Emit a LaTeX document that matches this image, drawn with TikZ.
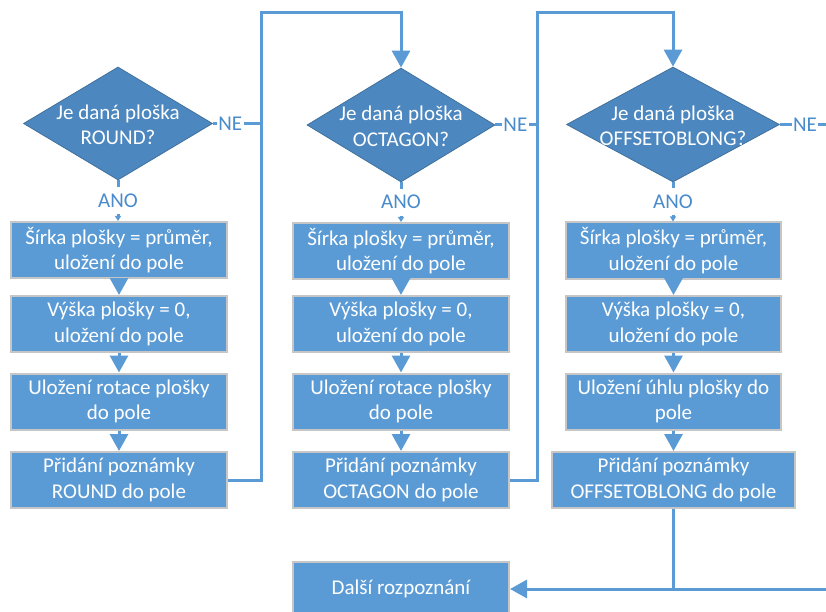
\documentclass[tikz,border=0pt]{standalone}
\usepackage{fontspec}
\setmainfont{Carlito}
\usetikzlibrary{shapes.geometric,arrows.meta}
\definecolor{boxblue}{HTML}{5B9BD5}
\definecolor{decblue}{HTML}{4C87BF}
\definecolor{decedge}{HTML}{41719C}
\definecolor{rim}{HTML}{C6C6C6}
\definecolor{lblblue}{HTML}{4A8BCB}
\begin{document}
\begin{tikzpicture}[x=1pt,y=-1pt,
  every node/.style={font=\fontsize{21}{25.5}\selectfont},
  stepbox/.style={rectangle, fill=boxblue, draw=rim, line width=2pt,
    minimum width=216pt, minimum height=56pt, inner sep=0pt, align=center, text=white},
  decision/.style={diamond, fill=decblue, draw=decedge, line width=0.8pt, inner sep=0pt},
  dtext/.style={align=center, text=white, inner sep=0pt},
  flow/.style={draw=boxblue, line width=3pt},
  bigtip/.style={-{Triangle[width=18pt,length=17pt]}},
  smalltip/.style={-{Triangle[width=6pt,length=5pt]}},
  lbl/.style={fill=white, text=lblblue, inner xsep=1.5pt, inner ysep=0pt, minimum height=27pt}
]
\useasboundingbox (0,0) rectangle (826,612);
\clip (0,0) rectangle (826,612);

% ---- column 1: ROUND ----
\node[decision, minimum width=189pt, minimum height=113pt] (d1) at (118,123.5) {};
\node[dtext] (t1) at ([yshift=-1.5pt]d1.center) {Je daná ploška\\ROUND?};
\node[stepbox] (a1) at (119,250) {Šírka plošky = průměr,\\uložení do pole};
\node[stepbox] (a2) at (119,324) {Výška plošky = 0,\\uložení do pole};
\node[stepbox] (a3) at (119,401.5) {Uložení rotace plošky\\do pole};
\node[stepbox] (a4) at (119,480) {Přidání poznámky\\ROUND do pole};

% ---- column 2: OCTAGON ----
\node[decision, minimum width=188pt, minimum height=114pt] (d2) at (401,125) {};
\node[dtext] (t2) at ([yshift=-1.5pt]d2.center) {Je daná ploška\\OCTAGON?};
\node[stepbox] (b1) at (401,251) {Šírka plošky = průměr,\\uložení do pole};
\node[stepbox] (b2) at (401,324) {Výška plošky = 0,\\uložení do pole};
\node[stepbox] (b3) at (401,401.5) {Uložení rotace plošky\\do pole};
\node[stepbox] (b4) at (401,480) {Přidání poznámky\\OCTAGON do pole};

% ---- column 3: OFFSETOBLONG ----
\node[decision, minimum width=213pt, minimum height=115pt] (d3) at (673,124.5) {};
\node[dtext] (t3) at ([yshift=-1.5pt]d3.center) {Je daná ploška\\OFFSETOBLONG?};
\node[stepbox, minimum width=215pt] (c1) at (673.5,250.5) {Šírka plošky = průměr,\\uložení do pole};
\node[stepbox, minimum width=215pt] (c2) at (673.5,324) {Výška plošky = 0,\\uložení do pole};
\node[stepbox, minimum width=215pt] (c3) at (673.5,401.5) {Uložení úhlu plošky do\\pole};
\node[stepbox, minimum width=243pt] (c4) at (673.5,480) {Přidání poznámky\\OFFSETOBLONG do pole};

% ---- final step ----
\node[stepbox, minimum height=54pt] (next) at (401,589) {Další rozpoznání};

% ---- routing points ----
\coordinate (r1) at (261,13);
\coordinate (r2) at (537,13);
\coordinate (edgeNE) at (830,124.5);
\coordinate (edgeIn) at (830,589);

% ---- yes branches ----
\draw[flow,smalltip] (d1.south) -- node[lbl]{ANO} (d1.south |- a1.north);
\draw[flow,smalltip] (d2.south) -- node[lbl]{ANO} (d2.south |- b1.north);
\draw[flow,smalltip] (d3.south) -- node[lbl]{ANO} (d3.south |- c1.north);

% ---- step sequences ----
\draw[flow,bigtip] (a1) -- (a2);
\draw[flow,bigtip] (a2) -- (a3);
\draw[flow,bigtip] (a3) -- (a4);
\draw[flow,bigtip] (b1) -- (b2);
\draw[flow,bigtip] (b2) -- (b3);
\draw[flow,bigtip] (b3) -- (b4);
\draw[flow,bigtip] (c1) -- (c2);
\draw[flow,bigtip] (c2) -- (c3);
\draw[flow,bigtip] (c3) -- (c4);

% ---- no branches and loops to the next test ----
\draw[flow] (d1.east) -- node[lbl, pos=0.36]{NE} (d1.east -| r1);
\draw[flow,bigtip] (a4.east) -| (r1) -| (d2.north);
\draw[flow] (d2.east) -- node[lbl, pos=0.48]{NE} (d2.east -| r2);
\draw[flow,bigtip] (b4.east) -| (r2) -| (d3.north);
\draw[flow] (d3.east) -- node[lbl, pos=0.5]{NE} (edgeNE);

% ---- into the final step ----
\draw[flow] (c4.south) -- (c4.south |- edgeIn);
\draw[flow,bigtip] (edgeIn) -- (next.east);
\end{tikzpicture}
\end{document}
